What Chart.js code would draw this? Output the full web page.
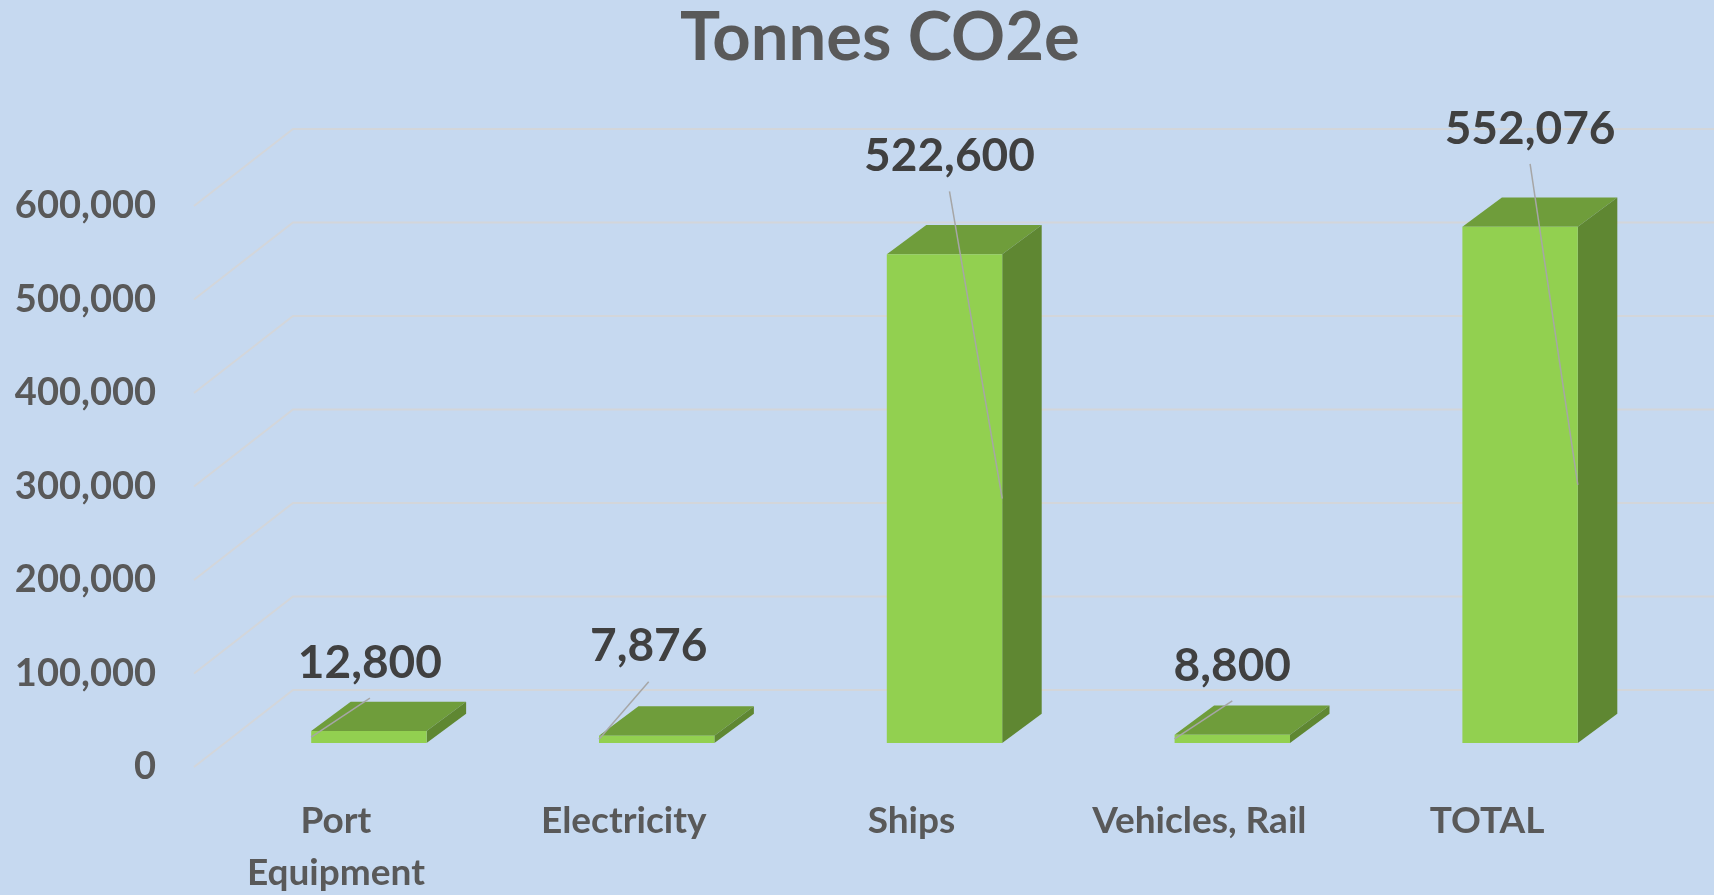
<!DOCTYPE html>
<html>
<head>
<meta charset="utf-8">
<title>Tonnes CO2e</title>
<script src="https://cdn.jsdelivr.net/npm/chart.js@4/dist/chart.umd.min.js"></script>
<style>
    html, body { margin: 0; padding: 0; background: #C6D9F0; }
    #wrap { width: 1714px; height: 895px; }
</style>
</head>
<body>
<div id="wrap"><canvas id="co2-chart" width="1714" height="895"></canvas></div>
<script>
// chart data
let chartTitle = 'Tonnes CO2e';
let categories = [['Port', 'Equipment'], 'Electricity', 'Ships', 'Vehicles, Rail', 'TOTAL'];
let tonnesCO2e = [12800, 7876, 522600, 8800, 552076];
let yTickValues = [0, 100000, 200000, 300000, 400000, 500000, 600000];

const FONT = 'Lato, "Open Sans", sans-serif';

function fmt(n) {
    return n.toLocaleString('en-US');
}

// draws the 3d walls, the top/side faces of the bars, labels and title
const excel3d = {
    id: 'excel3d',
    beforeDatasetsDraw(chart, args, opts) {
        let ctx = chart.ctx;
        let area = chart.chartArea;
        let y = chart.scales.y;
        ctx.save();
        // back wall gridlines
        ctx.strokeStyle = '#D3D6DA';
        ctx.lineWidth = 2;
        yTickValues.forEach(v => {
            let py = y.getPixelForValue(v);
            ctx.beginPath();
            ctx.moveTo(area.left + opts.floorFront, py + opts.floorFrontDy);
            ctx.lineTo(area.left + opts.floorBack, py + opts.floorBackDy);
            ctx.lineTo(chart.width, py + opts.floorBackDy);
            ctx.stroke();
        });
        // bar top + side faces
        let meta = chart.getDatasetMeta(0);
        meta.data.forEach(bar => {
            let l = bar.x - bar.width / 2, r = bar.x + bar.width / 2;
            let t = bar.y, b = bar.base;
            let dx = opts.depthX, dy = opts.depthY;
            ctx.fillStyle = opts.topColor;
            ctx.beginPath();
            ctx.moveTo(l, t); ctx.lineTo(r, t); ctx.lineTo(r + dx, t + dy); ctx.lineTo(l + dx, t + dy);
            ctx.closePath(); ctx.fill();
            ctx.fillStyle = opts.sideColor;
            ctx.beginPath();
            ctx.moveTo(r, t); ctx.lineTo(r + dx, t + dy); ctx.lineTo(r + dx, b + dy); ctx.lineTo(r, b);
            ctx.closePath(); ctx.fill();
        });
        ctx.restore();
    },
    afterDatasetsDraw(chart, args, opts) {
        let ctx = chart.ctx;
        let meta = chart.getDatasetMeta(0);
        ctx.save();
        ctx.font = 'bold 46px ' + FONT;
        ctx.textAlign = 'center';
        ctx.textBaseline = 'middle';
        meta.data.forEach((bar, i) => {
            let nudge = opts.labelNudge[i];
            let lx = bar.x + nudge[0];
            let ly = bar.y + nudge[1];
            // leader line
            let tall = (bar.base - bar.y) > 100;
            let ex = tall ? bar.x + bar.width / 2 : bar.x - bar.width / 2;
            let ey = (bar.y + bar.base) / 2;
            ctx.strokeStyle = '#A6A6A6';
            ctx.lineWidth = 1.5;
            ctx.beginPath();
            ctx.moveTo(lx, ly + 35);
            ctx.lineTo(ex, ey);
            ctx.stroke();
            ctx.fillStyle = '#404040';
            ctx.fillText(fmt(tonnesCO2e[i]), lx, ly);
        });
        // title
        ctx.font = 'bold 67px ' + FONT;
        ctx.fillStyle = '#595959';
        ctx.textBaseline = 'alphabetic';
        ctx.fillText(chartTitle, 880, 60);
        ctx.restore();
    }
};

let ctx = document.getElementById('co2-chart').getContext('2d');
let co2Chart = new Chart(ctx, {
    type: 'bar',
    data: {
        labels: categories,
        datasets: [{
            label: chartTitle,
            data: tonnesCO2e,
            backgroundColor: '#92D050',
            borderWidth: 0,
            barPercentage: 0.401,
            categoryPercentage: 1
        }]
    },
    options: {
        responsive: false,
        animation: false,
        devicePixelRatio: 1,
        layout: { padding: { top: 182, right: 50, bottom: 0, left: 0 } },
        scales: {
            x: {
                offset: true,
                grid: { display: false, drawTicks: false },
                border: { display: false },
                ticks: {
                    color: '#595959',
                    font: { family: FONT, size: 37, weight: 'bold', lineHeight: 1.41 },
                    padding: 52,
                    labelOffset: -33,
                    maxRotation: 0,
                    autoSkip: false
                },
                afterFit: s => { s.height = 152; }
            },
            y: {
                min: 0,
                max: 600000,
                grid: { display: false, drawTicks: false },
                border: { display: false },
                ticks: {
                    stepSize: 100000,
                    color: '#595959',
                    font: { family: FONT, size: 38, weight: 'bold' },
                    padding: 69,
                    labelOffset: 24,
                    callback: v => fmt(v)
                },
                afterFit: s => { s.width = 225; }
            }
        },
        plugins: {
            legend: { display: false },
            tooltip: { enabled: false },
            title: { display: false },
            excel3d: {
                floorFront: -31,
                floorFrontDy: 24,
                floorBack: 68,
                floorBackDy: -53,
                depthX: 39.5,
                depthY: -29.3,
                topColor: '#6F9D3B',
                sideColor: '#5F8732',
                labelNudge: [[1, -68], [-8, -89], [5, -98], [0, -69], [10, -98]]
            }
        }
    },
    plugins: [excel3d]
});
</script>
</body>
</html>
